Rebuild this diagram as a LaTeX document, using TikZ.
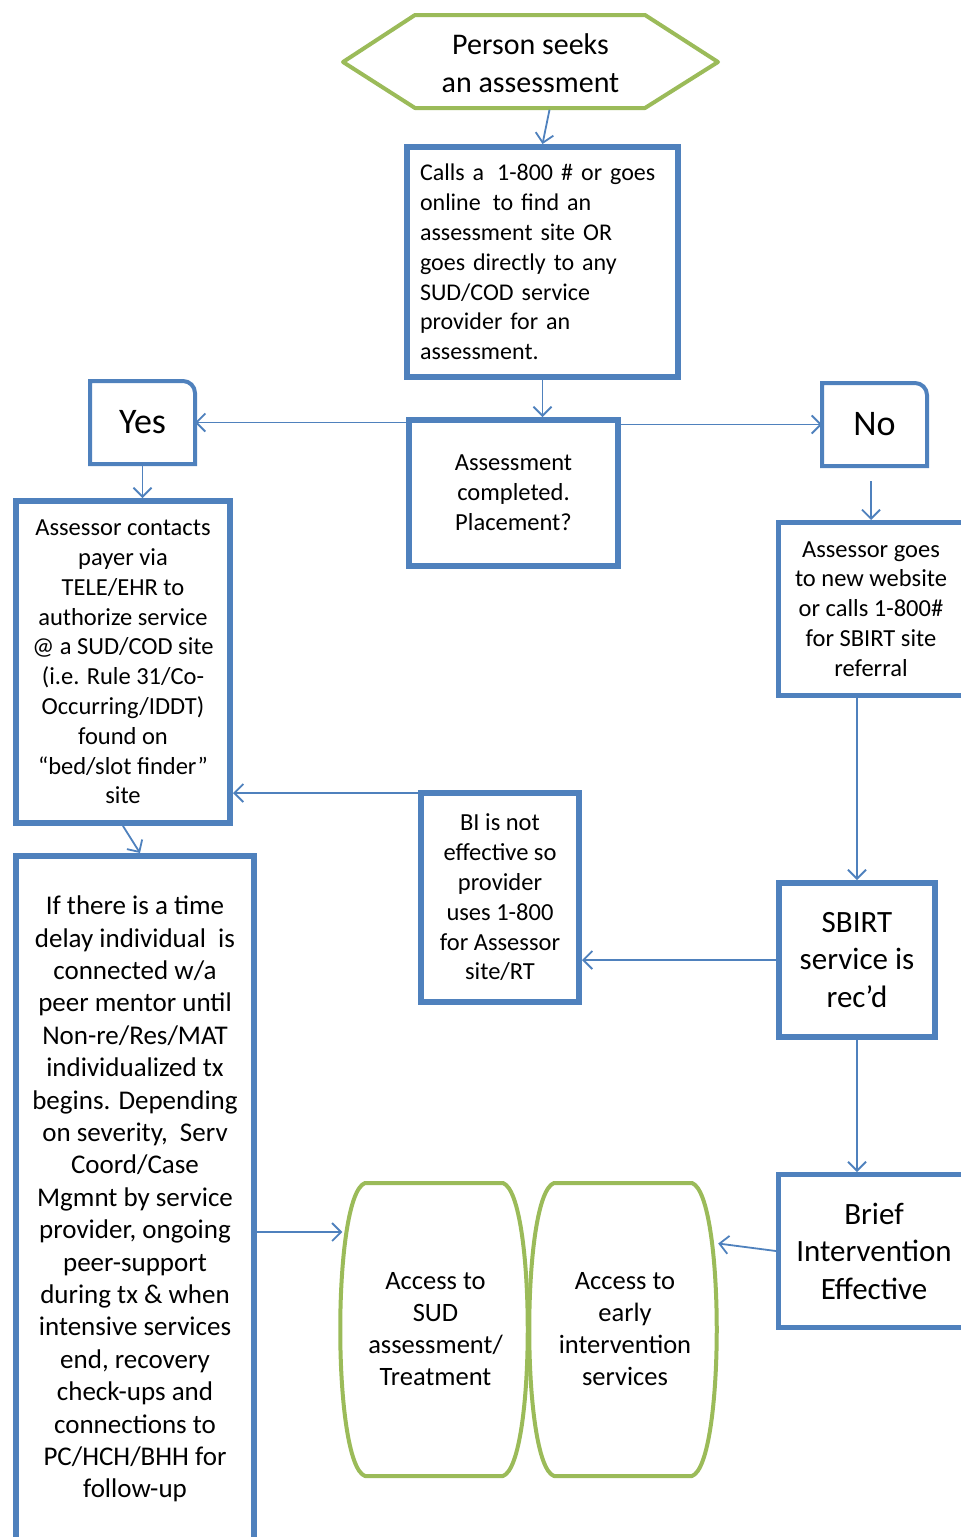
\documentclass[tikz,border=0pt]{standalone}
\usepackage{fontspec}
\setmainfont{Carlito}
\usetikzlibrary{arrows.meta}
\definecolor{boxblue}{RGB}{79,129,189}
\definecolor{hexgreen}{RGB}{155,187,89}

\tikzset{
  box/.style={draw=boxblue, line width=6pt, fill=white, align=center, inner sep=0pt},
  tab/.style={line width=4pt, outer sep=0pt, inner sep=0pt, minimum width=105pt, minimum height=83pt, font=\fontsize{36}{43}\selectfont},
  link/.style={boxblue, line width=1.8pt, -{Straight Barb[length=9pt,width=18pt]}},
  greenline/.style={draw=hexgreen, line width=4pt, line join=round},
  small/.style={font=\fontsize{24.5}{29.8}\selectfont},
  big/.style={font=\fontsize{31}{37.5}\selectfont},
  barreltext/.style={inner sep=0pt, minimum width=186pt, minimum height=293pt, align=center, font=\fontsize{26.5}{32}\selectfont}
}

\begin{document}
\begin{tikzpicture}[x=1pt,y=-1pt]
\useasboundingbox (0,0) rectangle (961,1537);

% Start of the flow
\draw[greenline] (343,62) -- (415,15) -- (645,15) -- (718,62) -- (645,108) -- (415,108) -- cycle;
\node[inner sep=0pt, minimum width=375pt, minimum height=93pt, align=center, font=\fontsize{30}{38}\selectfont] (seek) at (530.5,63) {Person seeks\\an assessment};

\node[box, font=\fontsize{24}{29.8}\selectfont, minimum width=271pt, minimum height=230pt, text width=245pt, align=left] (calls) at (542.5,262)
  {Calls a\hspace{5pt} 1-800 \# or goes\\online\hspace{4pt} to find an\\assessment site OR\\goes directly to any\\SUD/COD service\\provider for an\\assessment.};
\node[box, small, minimum width=209pt, minimum height=146pt] (assess) at (513.5,493) {Assessment\\completed.\\Placement?};

% Yes and No
\node[tab] (yes) at (142.5,422.5) {Yes};
\node[tab] (no) at (874.5,424.5) {No};
\foreach \b in {yes,no}
  \draw[boxblue, line width=4pt] (\b.south west) -- (\b.north west) -- ([xshift=-12pt]\b.north east)
    arc[start angle=90, end angle=0, radius=12pt] -- (\b.south east) -- cycle;

% Left column
\node[box, small, minimum width=214pt, minimum height=322pt] (contact) at (123,662)
  {Assessor contacts\\payer via\\TELE/EHR to\\authorize service\\@ a SUD/COD site\\(i.e. Rule 31/Co-\\Occurring/IDDT)\\found on\\“bed/slot finder”\\site};
\node[box, font=\fontsize{27}{32.4}\selectfont, minimum width=238pt, minimum height=686pt] (delay) at (135,1199)
  {If there is a time\\delay individual\ \ is\\connected w/a\\peer mentor until\\Non-re/Res/MAT\\individualized tx\\begins. Depending\\on severity,\ \ Serv\\Coord/Case\\Mgmnt by service\\provider, ongoing\\peer-support\\during tx \& when\\intensive services\\end, recovery\\check-ups and\\connections to\\PC/HCH/BHH for\\follow-up};

% Middle and right column
\node[box, small, minimum width=158pt, minimum height=209pt] (bi) at (500,897.5)
  {BI is not\\effective so\\provider\\uses 1-800\\for Assessor\\site/RT};
\node[box, small, line width=5pt, minimum width=185pt, minimum height=173pt] (goes) at (871,609)
  {Assessor goes\\to new website\\or calls 1-800\#\\for SBIRT site\\referral};
\node[box, big, minimum width=156pt, minimum height=154pt] (sbirt) at (857,960) {SBIRT\\service is\\rec’d};
\node[box, big, line width=5pt, minimum width=191pt, minimum height=153pt] (brief) at (874,1251) {Brief\\Intervention\\Effective};

% Barrels at the bottom
\foreach \bx in {343,532}
  \draw[greenline] (\bx+22,1183) -- (\bx+160,1183) .. controls (\bx+193,1195) and (\bx+193,1464) .. (\bx+160,1476)
    -- (\bx+22,1476) .. controls (\bx-11,1464) and (\bx-11,1195) .. (\bx+22,1183) -- cycle;
\node[barreltext] (sud) at (435.5,1329.5) {Access to\\SUD\\assessment/\\Treatment};
\node[barreltext] (early) at (625,1329.5) {Access to\\early\\intervention\\services};

% Connectors
\draw[link] ([xshift=19pt]seek.south) -- (calls.north);
\draw[link] (calls.south) -- (calls.south |- assess.north);
\draw[link] (assess.west |- yes.east) -- (yes.east);
\draw[link] (assess.east |- no.west) -- (no.west);
\draw[link] (yes.south) -- (yes.south |- contact.north);
\draw[link] (contact.south) -- ([xshift=5pt]delay.north);
\draw[link] ([yshift=-3pt]bi.north west) -- ([yshift=-3pt]bi.north west -| contact.east);
\draw[link] (sbirt.west) -- (sbirt.west -| bi.east);
\draw[link] ([yshift=-15pt]no.south -| goes.north) -- (goes.north);
\draw[link] (sbirt.north |- goes.south) -- (sbirt.north);
\draw[link] (sbirt.south) -- (sbirt.south |- brief.north);
\draw[link] (brief.west) -- ([yshift=86pt]early.east);
\draw[link] ([yshift=-33pt]delay.east) -- ([yshift=-33pt]delay.east -| sud.west);

\end{tikzpicture}
\end{document}
